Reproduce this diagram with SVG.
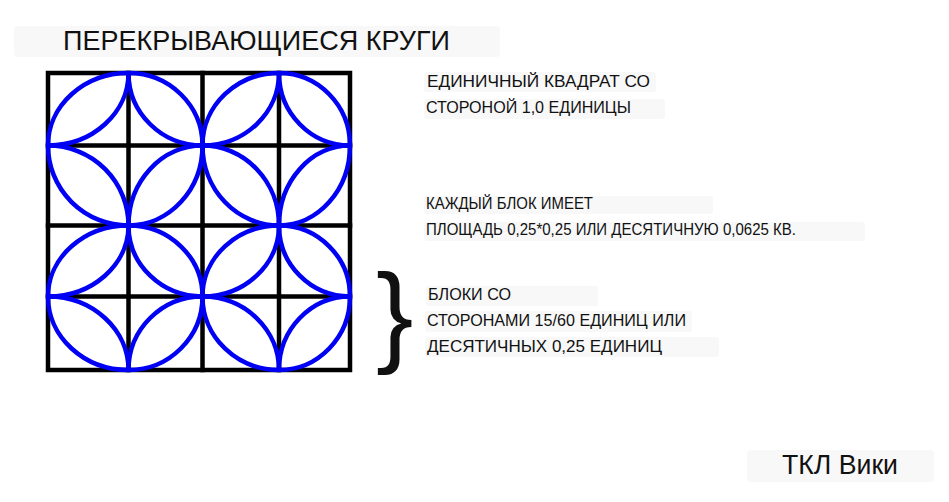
<svg xmlns="http://www.w3.org/2000/svg" width="949" height="502" viewBox="0 0 949 502">
<style>
.bg{fill:#f8f8f8}
.t{font-family:"Liberation Sans",Arial,sans-serif;fill:#111}
.s{font-size:16.5px}
.grid{stroke:#000;stroke-width:4.5;fill:none;stroke-linecap:square}
.arc{stroke:#0000f5;stroke-width:4.5;fill:none}
</style>
<rect width="949" height="502" fill="#fff"/>
<g id="title">
<rect class="bg" x="14" y="26" width="486" height="31" rx="4"/>
<text class="t" x="63" y="50" font-size="27.5" textLength="387" lengthAdjust="spacingAndGlyphs">ПЕРЕКРЫВАЮЩИЕСЯ КРУГИ</text>
</g>
<g id="grid">
<rect class="grid" x="48" y="73" width="302" height="297"/>
<path class="grid" d="M128.5,73V370M202.5,73V370M279,73V370M48,145.5H350M48,225.5H350M48,296.5H350"/>
</g>
<g id="circles">
<path class="arc" d="M48,145.5 A80.5,72.5 0 0 1 128.5,73 A74,72.5 0 0 1 202.5,145.5 A74,80 0 0 1 128.5,225.5 A80.5,80 0 0 1 48,145.5 Z"/>
<path class="arc" d="M202.5,145.5 A76.5,72.5 0 0 1 279,73 A71,72.5 0 0 1 350,145.5 A71,80 0 0 1 279,225.5 A76.5,80 0 0 1 202.5,145.5 Z"/>
<path class="arc" d="M48,296.5 A80.5,71 0 0 1 128.5,225.5 A74,71 0 0 1 202.5,296.5 A74,73.5 0 0 1 128.5,370 A80.5,73.5 0 0 1 48,296.5 Z"/>
<path class="arc" d="M202.5,296.5 A76.5,71 0 0 1 279,225.5 A71,71 0 0 1 350,296.5 A71,73.5 0 0 1 279,370 A76.5,73.5 0 0 1 202.5,296.5 Z"/>
<path class="arc" d="M128.5,73 A80.5,72.5 0 0 1 48,145.5"/>
<path class="arc" d="M128.5,73 A74,72.5 0 0 0 202.5,145.5 A76.5,72.5 0 0 0 279,73"/>
<path class="arc" d="M279,73 A71,72.5 0 0 0 350,145.5"/>
<path class="arc" d="M48,145.5 A80.5,80 0 0 1 128.5,225.5 A80.5,71 0 0 1 48,296.5"/>
<path class="arc" d="M128.5,225.5 A74,80 0 0 1 202.5,145.5 A76.5,80 0 0 1 279,225.5 A76.5,71 0 0 1 202.5,296.5 A74,71 0 0 1 128.5,225.5 Z"/>
<path class="arc" d="M350,145.5 A71,80 0 0 0 279,225.5 A71,71 0 0 0 350,296.5"/>
<path class="arc" d="M128.5,370 A80.5,73.5 0 0 0 48,296.5"/>
<path class="arc" d="M128.5,370 A74,73.5 0 0 1 202.5,296.5 A76.5,73.5 0 0 1 279,370"/>
<path class="arc" d="M279,370 A71,73.5 0 0 1 350,296.5"/>
</g>
<g id="note1">
<rect class="bg" x="424" y="72" width="232" height="20" rx="3"/>
<rect class="bg" x="424" y="99" width="241" height="20" rx="3"/>
<text class="t s" x="427" y="87" textLength="223" lengthAdjust="spacingAndGlyphs">ЕДИНИЧНЫЙ КВАДРАТ СО</text>
<text class="t s" x="426" y="113" textLength="205" lengthAdjust="spacingAndGlyphs">СТОРОНОЙ 1,0 ЕДИНИЦЫ</text>
</g>
<g id="note2">
<rect class="bg" x="424" y="196" width="289" height="18" rx="3"/>
<rect class="bg" x="424" y="222" width="441" height="19" rx="3"/>
<text class="t s" x="426" y="209" textLength="167" lengthAdjust="spacingAndGlyphs">КАЖДЫЙ БЛОК ИМЕЕТ</text>
<text class="t s" x="426" y="235" textLength="370" lengthAdjust="spacingAndGlyphs">ПЛОЩАДЬ 0,25*0,25 ИЛИ ДЕСЯТИЧНУЮ 0,0625 КВ.</text>
</g>
<g id="note3">
<text class="t" x="376" y="352" font-size="112" fill="#000">}</text>
<rect class="bg" x="426" y="286" width="172" height="20" rx="3"/>
<rect class="bg" x="425" y="311" width="267" height="21" rx="3"/>
<rect class="bg" x="425" y="337" width="294" height="20" rx="3"/>
<text class="t s" x="428" y="300" textLength="83" lengthAdjust="spacingAndGlyphs">БЛОКИ СО</text>
<text class="t s" x="427" y="326" textLength="259" lengthAdjust="spacingAndGlyphs">СТОРОНАМИ 15/60 ЕДИНИЦ ИЛИ</text>
<text class="t s" x="427" y="352" textLength="235" lengthAdjust="spacingAndGlyphs">ДЕСЯТИЧНЫХ 0,25 ЕДИНИЦ</text>
</g>
<g id="credit">
<rect class="bg" x="747" y="450" width="187" height="32" rx="4"/>
<text class="t" x="782" y="474" font-size="27.5" textLength="116" lengthAdjust="spacingAndGlyphs">ТКЛ Вики</text>
</g>
</svg>
